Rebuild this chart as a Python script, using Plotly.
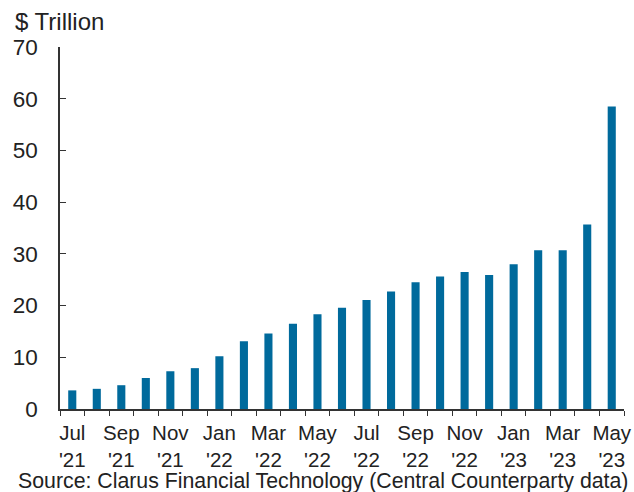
import plotly.graph_objects as go

months = ["Jul '21", "Aug '21", "Sep '21", "Oct '21", "Nov '21", "Dec '21",
          "Jan '22", "Feb '22", "Mar '22", "Apr '22", "May '22", "Jun '22",
          "Jul '22", "Aug '22", "Sep '22", "Oct '22", "Nov '22", "Dec '22",
          "Jan '23", "Feb '23", "Mar '23", "Apr '23", "May '23"]
values = [3.6, 3.9, 4.6, 6.0, 7.3, 7.9, 10.2, 13.1, 14.6, 16.5, 18.3, 19.6,
          21.1, 22.7, 24.5, 25.6, 26.5, 25.9, 28.0, 30.7, 30.7, 35.7, 58.5]
tick_text = [m.replace(" ", "<br>") if i % 2 == 0 else "" for i, m in enumerate(months)]
y_ticks = [0, 10, 20, 30, 40, 50, 60, 70]

FONT = "Liberation Sans, Arial, sans-serif"
AX = "#333333"
TXT = "#222222"

L, R, T, B = 60, 10, 47, 83
PW, PH = 634 - L - R, 492 - T - B

fig = go.Figure()
fig.add_trace(go.Bar(x=months, y=values, marker=dict(color="#006a9c", line=dict(width=0)),
                     showlegend=False))

fig.update_layout(
    width=634, height=492,
    margin=dict(l=L, r=R, t=T, b=B, autoexpand=False),
    paper_bgcolor="white", plot_bgcolor="white",
    bargap=0.67,
    font=dict(family=FONT, size=21, color=TXT),
    xaxis=dict(
        type="category", tickmode="array", tickvals=months, ticktext=tick_text,
        tickson="boundaries", ticks="outside", ticklen=5, tickwidth=1.2, tickcolor=AX,
        showline=True, linecolor=AX, linewidth=1.5, showgrid=False, automargin=False,
        tickfont=dict(size=20.5, color=TXT), tickangle=0, ticklabelstandoff=5,
    ),
    yaxis=dict(
        range=[0, 70], tickvals=y_ticks, ticks="inside", ticklen=6, tickwidth=1.2,
        tickcolor=AX, showline=True, linecolor=AX, linewidth=1.5, showgrid=False,
        zeroline=False, tickfont=dict(size=22.5, color=TXT), ticklabelstandoff=16,
        automargin=False,
    ),
    annotations=[
        dict(text="$ Trillion", xref="paper", yref="paper", x=(13 - L) / PW, y=1 + (T - 21) / PH,
             xanchor="left", yanchor="middle", showarrow=False, font=dict(size=24, color=TXT)),
        dict(text="Source: Clarus Financial Technology (Central Counterparty data)",
             xref="paper", yref="paper", x=(16 - L) / PW, y=-(481 - 409) / PH,
             xanchor="left", yanchor="middle", showarrow=False, font=dict(size=21.3, color=TXT)),
    ],
)

fig.write_html("out.html", config={"displayModeBar": False},
               post_script="document.body.style.margin='0px';document.body.style.overflow='hidden';")
